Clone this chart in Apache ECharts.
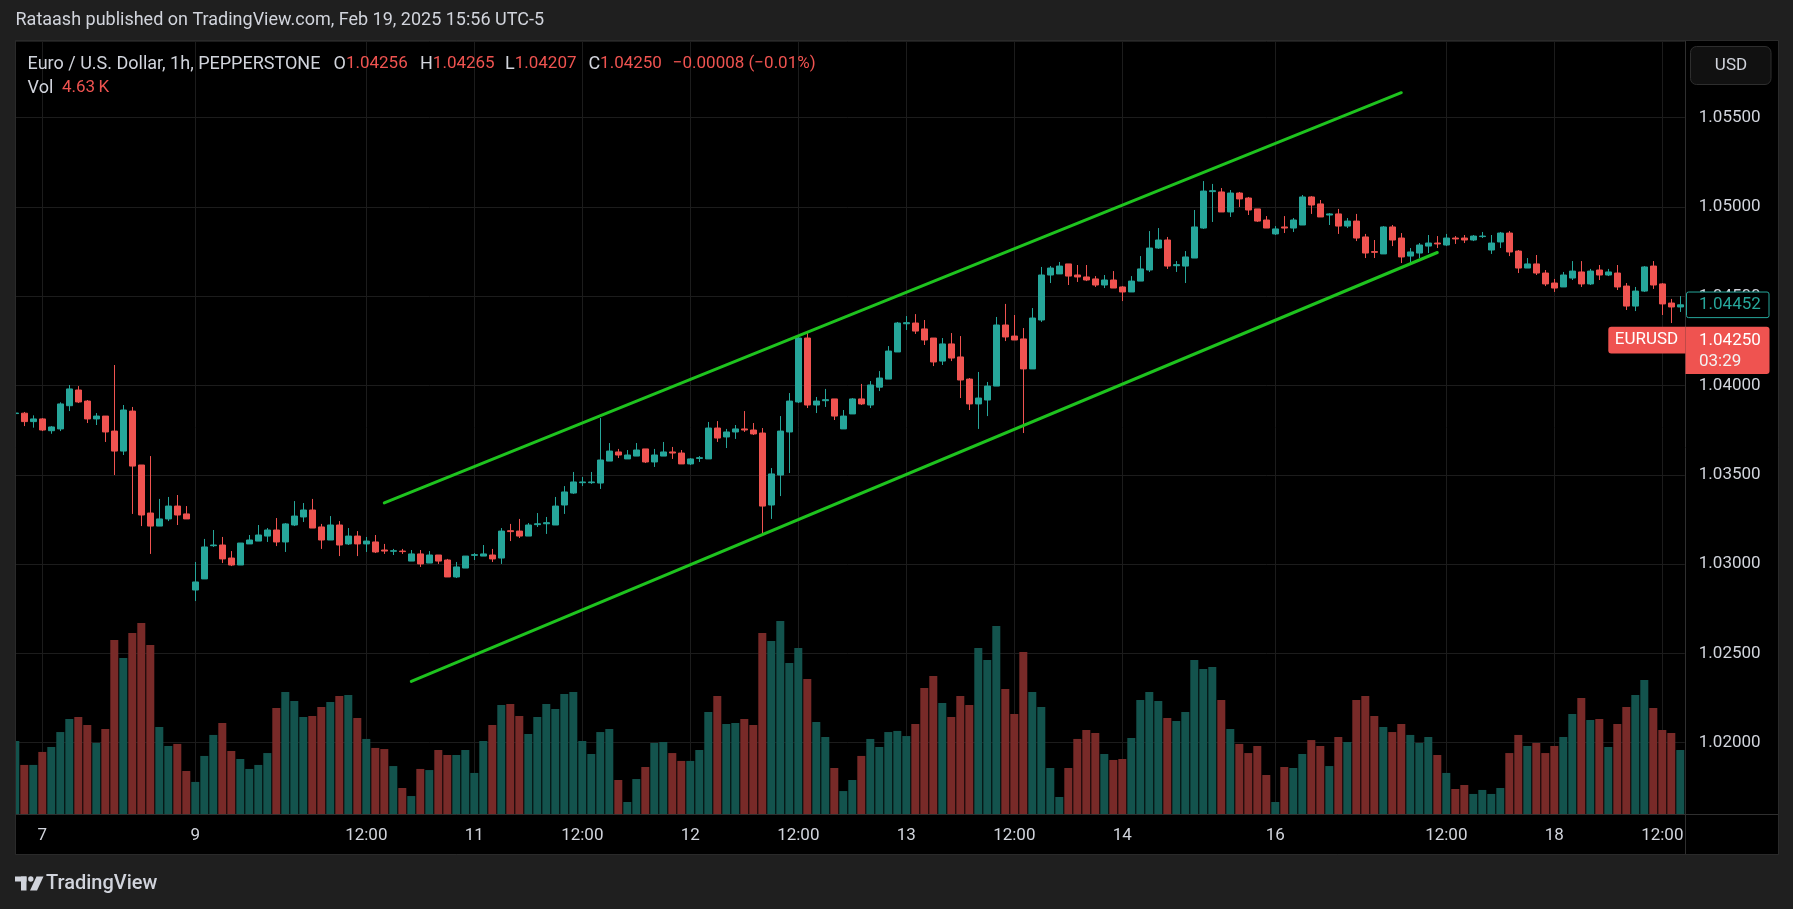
<!DOCTYPE html>
<html><head><meta charset="utf-8">
<script src="https://cdn.jsdelivr.net/npm/echarts@6/dist/echarts.min.js"></script>
<style>html,body{margin:0;padding:0;background:#1f1f1f;}#c{width:1793px;height:909px;}</style>
</head><body><div id="c"></div>
<script>
// ---- data (EUR/USD 1h) ----
const opens = [1.03843,1.03845,1.03798,1.03813,1.03747,1.03757,1.03887,1.03975,1.03913,1.03813,1.03829,1.03745,1.03633,1.03857,1.03555,1.03286,1.03213,1.03253,1.03325,1.03281,1.02855,1.02917,1.03103,1.03107,1.03034,1.02995,1.03113,1.03129,1.03157,1.03191,1.03124,1.03219,1.03264,1.03303,1.03208,1.03135,1.03219,1.03113,1.03157,1.03113,1.03124,1.03079,1.03072,1.03073,1.03017,1.03057,1.03006,1.03051,1.03023,1.02928,1.02978,1.03049,1.03045,1.03051,1.03034,1.03187,1.03185,1.03157,1.03221,1.03226,1.03219,1.03331,1.03398,1.03456,1.03456,1.03454,1.03577,1.03628,1.03589,1.03605,1.03645,1.03572,1.03605,1.03628,1.03622,1.03561,1.03592,1.03589,1.03762,1.03712,1.03740,1.03757,1.03751,1.03734,1.03331,1.03499,1.03740,1.03908,1.04266,1.03891,1.03915,1.03925,1.03757,1.03841,1.03925,1.03891,1.03991,1.04036,1.04188,1.04346,1.04350,1.04317,1.04266,1.04137,1.04233,1.04160,1.04036,1.03897,1.03919,1.03997,1.04339,1.04277,1.04261,1.04093,1.04367,1.04619,1.04625,1.04681,1.04619,1.04608,1.04597,1.04563,1.04591,1.04552,1.04524,1.04585,1.04647,1.04770,1.04815,1.04671,1.04669,1.04714,1.04882,1.05086,1.05084,1.04972,1.05078,1.05050,1.04989,1.04927,1.04849,1.04888,1.04882,1.04899,1.05056,1.05017,1.04955,1.04961,1.04893,1.04921,1.04832,1.04750,1.04737,1.04888,1.04826,1.04725,1.04742,1.04781,1.04798,1.04787,1.04826,1.04826,1.04815,1.04834,1.04759,1.04804,1.04854,1.04753,1.04658,1.04681,1.04630,1.04574,1.04552,1.04602,1.04636,1.04569,1.04647,1.04619,1.04630,1.04557,1.04445,1.04529,1.04669,1.04569,1.04462,1.04440];
const highs = [1.03863,1.03852,1.03833,1.03818,1.03773,1.03906,1.04003,1.03997,1.03919,1.03846,1.03829,1.04115,1.03891,1.03880,1.03555,1.03605,1.03365,1.03376,1.03387,1.03325,1.03012,1.03141,1.03191,1.03152,1.03073,1.03118,1.03163,1.03219,1.03202,1.03258,1.03230,1.03353,1.03342,1.03365,1.03225,1.03269,1.03241,1.03202,1.03185,1.03152,1.03163,1.03113,1.03085,1.03085,1.03079,1.03079,1.03073,1.03051,1.03029,1.03012,1.03045,1.03062,1.03107,1.03085,1.03202,1.03225,1.03253,1.03230,1.03286,1.03264,1.03376,1.03437,1.03516,1.03488,1.03516,1.03818,1.03678,1.03645,1.03639,1.03678,1.03645,1.03645,1.03684,1.03656,1.03639,1.03594,1.03605,1.03796,1.03801,1.03757,1.03779,1.03857,1.03790,1.03762,1.03538,1.03829,1.03958,1.04277,1.04300,1.03936,1.03981,1.03925,1.03863,1.03930,1.04009,1.04025,1.04081,1.04221,1.04356,1.04389,1.04400,1.04367,1.04266,1.04266,1.04294,1.04277,1.04042,1.04076,1.04020,1.04384,1.04457,1.04395,1.04322,1.04434,1.04664,1.04669,1.04692,1.04681,1.04675,1.04675,1.04613,1.04619,1.04641,1.04557,1.04613,1.04725,1.04865,1.04882,1.04832,1.04697,1.04753,1.04983,1.05145,1.05129,1.05106,1.05095,1.05084,1.05056,1.04989,1.04949,1.04893,1.04949,1.04938,1.05067,1.05061,1.05039,1.04966,1.04989,1.04938,1.04961,1.04849,1.04815,1.04893,1.04899,1.04854,1.04770,1.04798,1.04843,1.04837,1.04849,1.04837,1.04843,1.04843,1.04860,1.04843,1.04860,1.04865,1.04759,1.04714,1.04731,1.04647,1.04597,1.04636,1.04697,1.04697,1.04653,1.04675,1.04653,1.04675,1.04574,1.04552,1.04669,1.04697,1.04574,1.04485,1.04501];
const lows = [1.03813,1.03773,1.03764,1.03745,1.03730,1.03745,1.03857,1.03902,1.03790,1.03779,1.03684,1.03499,1.03611,1.03281,1.03213,1.03057,1.03213,1.03241,1.03219,1.03253,1.02793,1.02917,1.03096,1.03006,1.02989,1.02995,1.03113,1.03129,1.03124,1.03101,1.03068,1.03213,1.03236,1.03202,1.03085,1.03135,1.03045,1.03107,1.03045,1.03068,1.03062,1.03057,1.03051,1.03057,1.03017,1.02984,1.03006,1.03001,1.02928,1.02922,1.02978,1.03023,1.03045,1.03012,1.03001,1.03129,1.03146,1.03157,1.03208,1.03169,1.03219,1.03281,1.03393,1.03437,1.03449,1.03421,1.03577,1.03594,1.03589,1.03605,1.03566,1.03544,1.03605,1.03589,1.03561,1.03555,1.03572,1.03589,1.03684,1.03650,1.03701,1.03740,1.03723,1.03169,1.03253,1.03381,1.03510,1.03902,1.03874,1.03846,1.03880,1.03807,1.03757,1.03841,1.03891,1.03874,1.03969,1.04036,1.04188,1.04311,1.04289,1.04227,1.04109,1.04115,1.04137,1.03930,1.03863,1.03757,1.03829,1.03997,1.04249,1.04255,1.03734,1.04093,1.04356,1.04574,1.04625,1.04563,1.04580,1.04585,1.04552,1.04546,1.04546,1.04473,1.04524,1.04585,1.04636,1.04765,1.04653,1.04636,1.04574,1.04714,1.04877,1.04916,1.04972,1.04944,1.05000,1.04955,1.04916,1.04882,1.04843,1.04854,1.04860,1.04899,1.04961,1.04944,1.04899,1.04849,1.04882,1.04809,1.04714,1.04714,1.04737,1.04781,1.04686,1.04681,1.04714,1.04742,1.04770,1.04781,1.04793,1.04798,1.04809,1.04826,1.04737,1.04770,1.04725,1.04630,1.04658,1.04619,1.04557,1.04524,1.04552,1.04591,1.04552,1.04563,1.04591,1.04613,1.04535,1.04423,1.04417,1.04524,1.04541,1.04395,1.04350,1.04412];
const closes = [1.03846,1.03798,1.03813,1.03751,1.03768,1.03897,1.03981,1.03908,1.03813,1.03829,1.03740,1.03633,1.03863,1.03549,1.03275,1.03213,1.03253,1.03325,1.03275,1.03253,1.02900,1.03096,1.03107,1.03029,1.02995,1.03118,1.03135,1.03163,1.03191,1.03124,1.03225,1.03269,1.03303,1.03202,1.03135,1.03219,1.03107,1.03157,1.03113,1.03129,1.03068,1.03073,1.03075,1.03070,1.03057,1.03001,1.03051,1.03017,1.02928,1.02984,1.03045,1.03053,1.03057,1.03029,1.03185,1.03182,1.03157,1.03219,1.03226,1.03232,1.03325,1.03404,1.03460,1.03460,1.03460,1.03583,1.03633,1.03611,1.03611,1.03639,1.03572,1.03611,1.03628,1.03622,1.03561,1.03589,1.03596,1.03762,1.03706,1.03740,1.03757,1.03751,1.03729,1.03325,1.03505,1.03745,1.03913,1.04266,1.03891,1.03913,1.03921,1.03829,1.03829,1.03925,1.03897,1.04003,1.04042,1.04193,1.04350,1.04352,1.04305,1.04255,1.04132,1.04233,1.04154,1.04031,1.03897,1.03930,1.03997,1.04339,1.04272,1.04255,1.04093,1.04378,1.04619,1.04658,1.04669,1.04613,1.04608,1.04591,1.04563,1.04591,1.04546,1.04524,1.04585,1.04653,1.04770,1.04815,1.04669,1.04677,1.04720,1.04888,1.05089,1.05091,1.04972,1.05078,1.05045,1.04983,1.04921,1.04882,1.04877,1.04882,1.04927,1.05056,1.05011,1.04944,1.04961,1.04893,1.04921,1.04826,1.04742,1.04746,1.04888,1.04815,1.04720,1.04748,1.04787,1.04798,1.04793,1.04826,1.04821,1.04815,1.04837,1.04837,1.04798,1.04854,1.04748,1.04658,1.04681,1.04630,1.04569,1.04546,1.04619,1.04641,1.04569,1.04641,1.04619,1.04636,1.04552,1.04445,1.04529,1.04664,1.04563,1.04457,1.04440,1.04452];
// volume in thousands
const volumesK = [5.28,3.55,3.55,4.49,4.85,5.93,6.87,7.02,6.44,5.14,6.15,12.59,11.29,13.10,13.82,12.23,6.30,4.92,5.07,3.11,2.32,4.20,5.72,6.58,4.56,3.98,3.26,3.55,4.41,7.67,8.83,8.18,7.02,7.09,7.74,8.10,8.54,8.61,6.95,5.43,4.78,4.70,3.47,1.88,1.30,3.26,3.18,4.63,4.27,4.27,4.63,2.97,5.28,6.44,7.89,7.96,7.09,5.79,7.02,7.96,7.60,8.68,8.83,5.28,4.34,5.93,6.15,2.46,0.87,2.53,3.40,5.14,5.21,4.41,3.84,3.84,4.63,7.38,8.54,6.51,6.58,6.87,6.44,13.10,12.52,13.97,10.93,12.01,9.77,6.66,5.57,3.33,1.66,2.46,4.20,5.43,4.85,5.93,6.01,5.64,6.51,9.12,9.99,8.03,7.02,8.54,7.89,12.01,11.14,13.60,9.04,7.24,11.72,8.83,7.74,3.33,1.23,3.33,5.43,6.08,5.86,4.34,3.91,3.98,5.50,8.25,8.83,8.18,6.95,6.73,7.38,11.14,10.49,10.64,8.25,6.15,5.07,4.41,4.92,2.82,0.87,3.40,3.33,4.34,5.35,4.92,3.47,5.57,5.21,8.25,8.54,7.09,6.30,5.93,6.51,5.72,5.14,5.57,4.27,2.97,1.81,2.10,1.45,1.74,1.45,1.88,4.41,5.72,4.92,5.14,4.41,4.92,5.57,7.24,8.39,6.80,6.87,4.85,6.51,7.74,8.61,9.70,7.67,6.08,5.86,4.63];
// time-axis ticks (bar index -> label)
const tickIndex  = [3,20,39,51,63,75,87,99,111,123,140,159,171,183];
const tickLabels = ['7','9','12:00','11','12:00','12','12:00','13','12:00','14','16','12:00','18','12:00'];
// hand-drawn channel (bar index, price)
const upperChannel = [[41, 1.03343], [154, 1.05640]];
const lowerChannel = [[44, 1.02343], [158, 1.04745]];
const lastPrice = 1.04452;
const markPrice = 1.04250;
const countdown = '03:29';
const priceMin = 1.016006, priceMax = 1.059294;
const volMaxK = 55.93;

// ---- hourly timestamps (forex session: closed Fri 17:00 - Sun 17:00) ----
const categories = [];
(function(){
  let t = Date.UTC(2025,1,6,21);
  const p = n => String(n).padStart(2,'0');
  while (categories.length < opens.length) {
    const d = new Date(t), dow = d.getUTCDay(), h = d.getUTCHours();
    const closed = (dow===5 && h>=17) || dow===6 || (dow===0 && h<17);
    if (!closed) categories.push(d.getUTCFullYear()+'-'+p(d.getUTCMonth()+1)+'-'+p(d.getUTCDate())+' '+p(h)+':00');
    t += 3600000;
  }
})();

const UP='#26a69a', DOWN='#ef5350', UPV='#13534d', DOWNV='#782a28';
const GRID='#1c1c1c', TXT='#d1d4dc', BG='#1f1f1f', SEP='#2f2f2f';
const FONT='Roboto, "Noto Sans", sans-serif';
const tickMap = {}; tickIndex.forEach((i,k)=>tickMap[i]=tickLabels[k]);

const candleData = opens.map((o,i)=>[o, closes[i], lows[i], highs[i]]);
const volData = volumesK.map((v,i)=>({value:v, itemStyle:{color: closes[i]>=opens[i]?UPV:DOWNV}}));

const chart = echarts.init(document.getElementById('c'), null, {width:1793, height:909});
const txt = (x,y,text,opt,z)=>({type:'text', x, y, z:(z||150), silent:true,
  style:Object.assign({text, fill:TXT, font:'17px '+FONT, textVerticalAlign:'middle', verticalAlign:'middle'}, opt||{})});
const ohlc = (x,l,v)=>({type:'text', x, y:64, z:150, silent:true, style:{text:'{l|'+l+'}{v|'+v+'}',
  verticalAlign:'middle', textVerticalAlign:'middle',
  rich:{l:{fill:TXT, font:'18px '+FONT}, v:{fill:DOWN, font:'17px '+FONT}}}});

chart.setOption({
  backgroundColor: BG,
  animation: false,
  grid: {left: 10.8, top: 41, width: 1674, height: 773, containLabel: false},
  xAxis: {type:'category', data: categories, boundaryGap: true,
    axisLine:{show:false}, axisTick:{show:false}, splitLine:{show:false},
    axisLabel:{interval:(i)=>tickMap[i]!==undefined, formatter:(v,i)=>tickMap[i]||'',
      color:TXT, fontSize:17, fontFamily:FONT, margin:13}},
  yAxis: [
    {type:'value', position:'right', min:priceMin, max:priceMax, splitNumber:8,
      minInterval:0.005, maxInterval:0.005,
      axisLine:{show:false}, axisTick:{show:false},
      axisLabel:{color:TXT, fontSize:17, fontFamily:FONT, margin:14, showMinLabel:false, showMaxLabel:false,
        formatter:v=>v.toFixed(5)},
      splitLine:{show:true, lineStyle:{color:GRID, width:1}}},
    {type:'value', min:0, max:volMaxK, show:false, splitLine:{show:false}}
  ],
  series: [
    {type:'line', data:[], z:1, silent:true,
      markLine:{silent:true, z:1, symbol:['none','none'], label:{show:false}, animation:false,
        lineStyle:{color:GRID, width:1, type:'solid'}, emphasis:{disabled:true},
        data: tickIndex.map(i=>({xAxis:i}))}},
    {type:'bar', yAxisIndex:1, data:volData, barWidth:8, z:2, silent:true},
    {type:'candlestick', yAxisIndex:0, data:candleData, barWidth:6, z:3, silent:true,
      itemStyle:{color:UP, color0:DOWN, borderColor:UP, borderColor0:DOWN, borderWidth:1}},
    {type:'line', data:upperChannel, showSymbol:false, symbol:'none', z:4, silent:true,
      lineStyle:{color:'#1ec31e', width:3, cap:'round'}},
    {type:'line', data:lowerChannel, showSymbol:false, symbol:'none', z:4, silent:true,
      lineStyle:{color:'#1ec31e', width:3, cap:'round'}}
  ]
});

const yLast = chart.convertToPixel({yAxisIndex:0}, lastPrice);
const yMark = chart.convertToPixel({yAxisIndex:0}, markPrice);

chart.setOption({graphic:[
  {type:'rect', z:-10, silent:true, shape:{x:16, y:41, width:1762, height:813}, style:{fill:'#000'}},
  {type:'rect', z:100, silent:true, shape:{x:0, y:41, width:16, height:813}, style:{fill:BG}},
  {type:'rect', z:101, silent:true, shape:{x:15.5, y:40.5, width:1763, height:814}, style:{fill:null, stroke:'#2a2a2a', lineWidth:1}},
  {type:'line', z:60, silent:true, shape:{x1:1685.5, y1:41, x2:1685.5, y2:854}, style:{stroke:SEP, lineWidth:1}},
  {type:'line', z:60, silent:true, shape:{x1:16, y1:814.5, x2:1778, y2:814.5}, style:{stroke:SEP, lineWidth:1}},
  // USD unit box
  {type:'rect', z:120, silent:true, shape:{x:1690.5, y:46.5, width:80.5, height:38, r:6}, style:{fill:'#111', stroke:'#2e2e2e', lineWidth:1}},
  txt(1731, 66, 'USD', {textAlign:'center', align:'center'}),
  // titles
  txt(15.5, 20, 'Rataash published on TradingView.com, Feb 19, 2025 15:56 UTC-5', {font:'18px '+FONT}),
  txt(27.6, 64, 'Euro / U.S. Dollar, 1h, PEPPERSTONE', {font:'18px '+FONT}),
  ohlc(333.5, 'O', '1.04256'),
  ohlc(420, 'H', '1.04265'),
  ohlc(505, 'L', '1.04207'),
  ohlc(588.4, 'C', '1.04250'),
  txt(672.8, 64, '\u22120.00008 (\u22120.01%)', {fill:DOWN}),
  txt(27.6, 88, 'Vol', {font:'18px '+FONT}),
  txt(62, 88, '4.63\u2009K', {fill:DOWN}),
  // last price tag
  {type:'rect', z:200, silent:true, shape:{x:1686.5, y:yLast-12.8, width:82.5, height:25.6, r:2}, style:{fill:'#000', stroke:UP, lineWidth:1}},
  txt(1699, yLast, lastPrice.toFixed(5), {fill:UP}, 210),
  // symbol price tag
  {type:'rect', z:200, silent:true, shape:{x:1608.3, y:yMark-14.2, width:77.2, height:26.7, r:[3,0,0,3]}, style:{fill:DOWN}},
  {type:'rect', z:200, silent:true, shape:{x:1685.5, y:yMark-14.2, width:84, height:47.3, r:[0,3,3,0]}, style:{fill:DOWN}},
  txt(1646.5, yMark-0.8, 'EURUSD', {fill:'#ffffff', textAlign:'center', align:'center'}, 210),
  txt(1699, yMark, markPrice.toFixed(5), {fill:'#ffffff'}, 210),
  txt(1699, yMark+21, countdown, {fill:'#f2f2f2'}, 210),
  // TradingView logo
  {type:'rect', z:150, silent:true, shape:{x:15, y:876.5, width:11.5, height:5}, style:{fill:TXT}},
  {type:'rect', z:150, silent:true, shape:{x:21, y:876.5, width:5.5, height:14}, style:{fill:TXT}},
  {type:'circle', z:150, silent:true, shape:{cx:30.8, cy:879, r:2.7}, style:{fill:TXT}},
  {type:'polygon', z:150, silent:true, shape:{points:[[36.5,876.5],[43.5,876.5],[37,890.5],[30,890.5]]}, style:{fill:TXT}},
  txt(46, 884, 'TradingView', {font:'500 20px '+FONT})
]});
</script>
</body></html>
